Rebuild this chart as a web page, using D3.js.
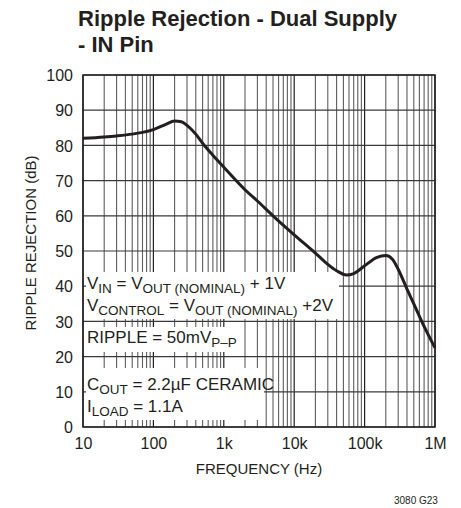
<!DOCTYPE html>
<html>
<head>
<meta charset="utf-8">
<script src="https://cdn.jsdelivr.net/npm/d3@7"></script>
<style>
  html, body { margin: 0; padding: 0; background: #fff; }
  svg { display: block; }
  text { font-family: "Liberation Sans Narrow", "Arial Narrow", "Liberation Sans", sans-serif; fill: #231f20; }
</style>
</head>
<body>
<svg id="chart" width="461" height="508"></svg>
<script>
// Data
const FREQ = [10, 20, 30, 50, 70, 100, 150, 200, 250, 300, 400, 500, 700, 1000, 2000, 3000, 5000,
              10000, 20000, 30000, 40000, 55000, 70000, 100000, 150000, 200000, 250000, 300000,
              400000, 500000, 700000, 1000000];
const REJECTION = [82.0, 82.4, 82.7, 83.2, 83.7, 84.5, 86.0, 86.9, 86.7, 85.7, 83.2, 80.6, 77.2, 73.8,
                   67.4, 64.2, 60.0, 54.6, 49.4, 46.2, 44.4, 43.2, 43.6, 45.8, 48.2, 48.7, 47.6, 44.8,
                   39.2, 35.0, 28.6, 22.5];

const X_TICKS = [10, 100, 1000, 10000, 100000, 1000000];
const X_LABELS = ["10", "100", "1k", "10k", "100k", "1M"];
const Y_TICKS = [0, 10, 20, 30, 40, 50, 60, 70, 80, 90, 100];

// condition notes: [text, subscript?]
const NOTE_VIN = [["V", 0], ["IN", 1], [" = V", 0], ["OUT (NOMINAL)", 1], [" + 1V", 0]];
const NOTE_VCTRL = [["V", 0], ["CONTROL", 1], [" = V", 0], ["OUT (NOMINAL)", 1], [" +2V", 0]];
const NOTE_RIPPLE = [["RIPPLE = 50mV", 0], ["P\u2013P", 1]];
const NOTE_COUT = [["C", 0], ["OUT", 1], [" = 2.2\u00b5F CERAMIC", 0]];
const NOTE_ILOAD = [["I", 0], ["LOAD", 1], [" = 1.1A", 0]];

// Layout
const svg = d3.select("#chart");
const M = { left: 83, right: 435, top: 75, bottom: 427 };

const x = d3.scaleLog().domain([10, 1e6]).range([M.left, M.right]);
const y = d3.scaleLinear().domain([0, 100]).range([M.bottom, M.top]);

// Title
const title = svg.append("g").attr("font-weight", "bold");
title.append("text").attr("x", 78).attr("y", 26).attr("font-size", "22px")
  .text("Ripple Rejection - Dual Supply");
title.append("text").attr("x", 78).attr("y", 52).attr("font-size", "22px")
  .text("- IN Pin");

// Grid
const grid = svg.append("g");
const minors = [];
for (let d = 10; d < 1e6; d *= 10) for (let k = 2; k <= 9; k++) minors.push(d * k);

grid.selectAll(".vminor").data(minors).join("line")
  .attr("x1", d => x(d)).attr("x2", d => x(d))
  .attr("y1", M.top).attr("y2", M.bottom)
  .attr("stroke", "#5e5e5e").attr("stroke-width", 1.1);

grid.selectAll(".vmajor").data(X_TICKS).join("line")
  .attr("x1", d => x(d)).attr("x2", d => x(d))
  .attr("y1", M.top).attr("y2", M.bottom)
  .attr("stroke", "#231f20").attr("stroke-width", 1.2);

grid.selectAll(".h").data(Y_TICKS).join("line")
  .attr("x1", M.left).attr("x2", M.right)
  .attr("y1", d => y(d)).attr("y2", d => y(d))
  .attr("stroke", "#3a3a3a").attr("stroke-width", 1.2);

// White boxes behind the notes
const boxes = [
  { x0: 86, x1: 339, y0: 272, y1: 319 },
  { x0: 86, x1: 242, y0: 327, y1: 352 },
  { x0: 86, x1: 264, y0: 368, y1: 420 }
];
svg.append("g").selectAll("rect").data(boxes).join("rect")
  .attr("x", d => d.x0).attr("y", d => d.y0)
  .attr("width", d => d.x1 - d.x0).attr("height", d => d.y1 - d.y0)
  .attr("fill", "#fff");

// Frame
svg.append("rect")
  .attr("x", M.left).attr("y", M.top)
  .attr("width", M.right - M.left).attr("height", M.bottom - M.top)
  .attr("fill", "none").attr("stroke", "#231f20").attr("stroke-width", 1.5);

// Curve
const pts = FREQ.map((f, i) => [f, REJECTION[i]]);
svg.append("path")
  .attr("d", d3.line().x(d => x(d[0])).y(d => y(d[1])).curve(d3.curveMonotoneX)(pts))
  .attr("fill", "none").attr("stroke", "#231f20").attr("stroke-width", 3)
  .attr("stroke-linejoin", "round");

// Axes labels
svg.append("g").attr("transform", `translate(0,${M.bottom + 22})`)
  .call(d3.axisBottom(x).tickValues(X_TICKS).tickFormat((d, i) => X_LABELS[i]).tickSize(0).tickPadding(0))
  .call(g => g.select(".domain").remove())
  .call(g => g.selectAll("text").attr("dy", 0).attr("font-size", "16px")
    .attr("font-family", null).attr("fill", "#231f20"));

svg.append("g").attr("transform", `translate(${M.left - 10},0)`)
  .call(d3.axisLeft(y).tickValues(Y_TICKS).tickSize(0).tickPadding(0))
  .call(g => g.select(".domain").remove())
  .call(g => g.selectAll("text").attr("dy", "0.36em").attr("font-size", "16px")
    .attr("font-family", null).attr("fill", "#231f20"));

svg.append("text").attr("x", (M.left + M.right) / 2).attr("y", 474)
  .attr("text-anchor", "middle").attr("font-size", "15px").text("FREQUENCY (Hz)");

svg.append("text").attr("transform", `translate(36,${(M.top + M.bottom) / 2 - 8}) rotate(-90)`)
  .attr("text-anchor", "middle").attr("font-size", "15px").text("RIPPLE REJECTION (dB)");

svg.append("text").attr("x", 394).attr("y", 504).attr("font-size", "10px").text("3080 G23");

// Notes
function note(parts, tx, ty) {
  const t = svg.append("text").attr("x", tx).attr("y", ty).attr("font-size", "17px");
  let shifted = false;
  parts.forEach(([s, sub]) => {
    const span = t.append("tspan").text(s);
    if (sub && !shifted) { span.attr("dy", 4).attr("font-size", "13.5px"); shifted = true; }
    else if (sub) { span.attr("font-size", "13.5px"); }
    else if (shifted) { span.attr("dy", -4); shifted = false; }
  });
}
note(NOTE_VIN, 87, 289);
note(NOTE_VCTRL, 87, 311);
note(NOTE_RIPPLE, 87, 343);
note(NOTE_COUT, 87, 390);
note(NOTE_ILOAD, 87, 412);
</script>
</body>
</html>
